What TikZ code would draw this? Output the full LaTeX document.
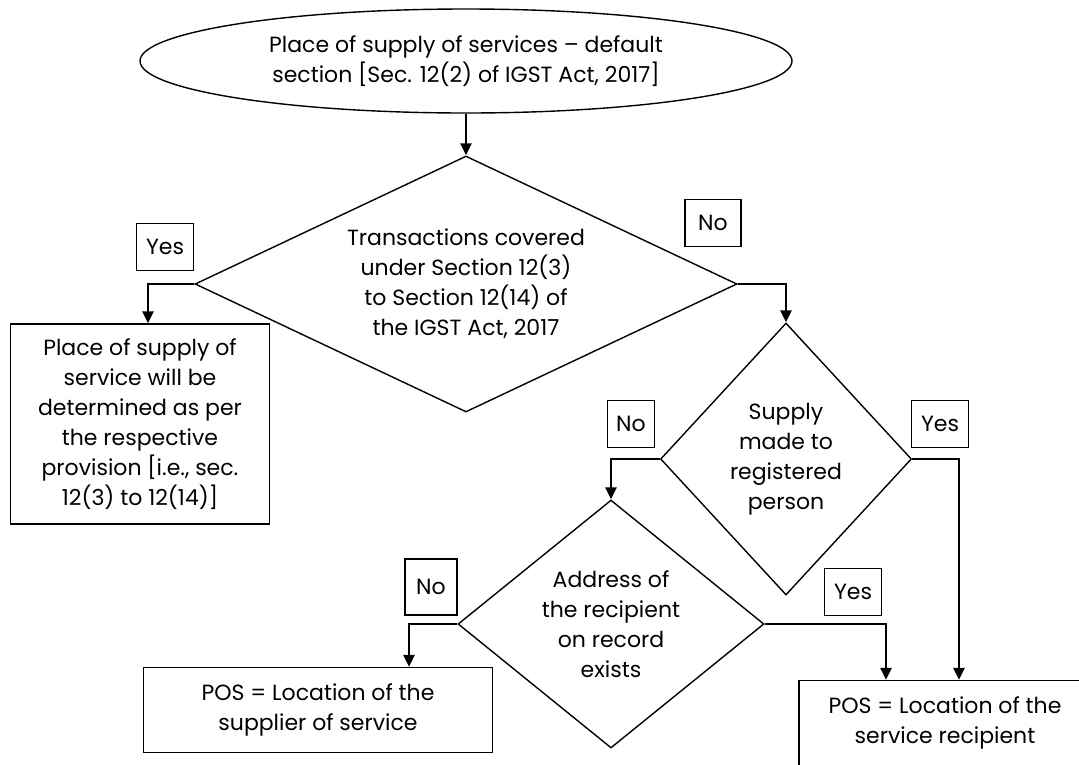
\documentclass[tikz,border=0pt]{standalone}
\usepackage{fontspec}
\setmainfont{Poppins}
\usetikzlibrary{arrows.meta,positioning,shapes.geometric}

\begin{document}
\begin{tikzpicture}[x=1pt,y=-1pt,font=\fontsize{22}{30}\selectfont,
   box/.style={draw,line width=1.4pt,align=center,inner sep=0pt},
   decision/.style={box,shape=diamond},
   tag/.style={draw,line width=1.6pt,inner sep=0pt,minimum width=57pt,minimum height=47pt},
   flow/.style={-{Triangle[length=12pt,width=11pt]},line width=2.4pt}]
  \useasboundingbox (0,0) rectangle (1079,764);
  \clip (0,0) rectangle (1079,764);
  \node[box,ellipse,minimum width=652pt,minimum height=104pt] (start) at (466,61)
       {Place of supply of services – default\\section [Sec. 12(2) of IGST Act, 2017]};
  \node[decision,shape aspect=2.1,minimum width=542pt,minimum height=256pt] (covered) at (466,284)
       {Transactions covered\\under Section 12(3)\\to Section 12(14) of\\the IGST Act, 2017};
  \node[box,minimum width=259pt,minimum height=200pt] (special) at (140,424)
       {Place of supply of\\service will be\\determined as per\\the respective\\provision [i.e., sec.\\12(3) to 12(14)]};
  \node[decision,shape aspect=0.92,minimum width=251pt,minimum height=272pt] (registered) at (786,459)
       {Supply\\made to\\registered\\person};
  \node[decision,shape aspect=1.23,minimum width=306pt,minimum height=248pt] (address) at (611,624)
       {Address of\\the recipient\\on record\\exists};
  \node[box,minimum width=349pt,minimum height=85pt] (supplier) at (318,710)
       {POS = Location of the\\supplier of service};
  \node[box,minimum width=292pt,minimum height=85pt] (recipient) at (945,723)
       {POS = Location of the\\service recipient};
  \node[tag] (yes1) at (165,247) {Yes};
  \node[tag,minimum width=56pt] (no1) at (713,223) {No};
  \node[tag,minimum width=47pt] (no2) at (631,424) {No};
  \node[tag] (yes2) at (940,424) {Yes};
  \node[tag,minimum width=52pt,minimum height=56pt] (no3) at (431,587) {No};
  \node[tag] (yes3) at (853,592) {Yes};
  \draw[flow] (start) -- (covered);
  \draw[flow] (covered.west) -| ([xshift=8pt]special.north);
  \draw[flow] (covered.east) -| (registered.north);
  \draw[flow] (registered.west) -| (address.north);
  \draw[flow] (registered.east) -| ([xshift=14pt]recipient.north);
  \draw[flow] (address.west) -| ([xshift=91pt]supplier.north);
  \draw[flow] (address.east) -| ([xshift=-59pt]recipient.north);
\end{tikzpicture}
\end{document}
